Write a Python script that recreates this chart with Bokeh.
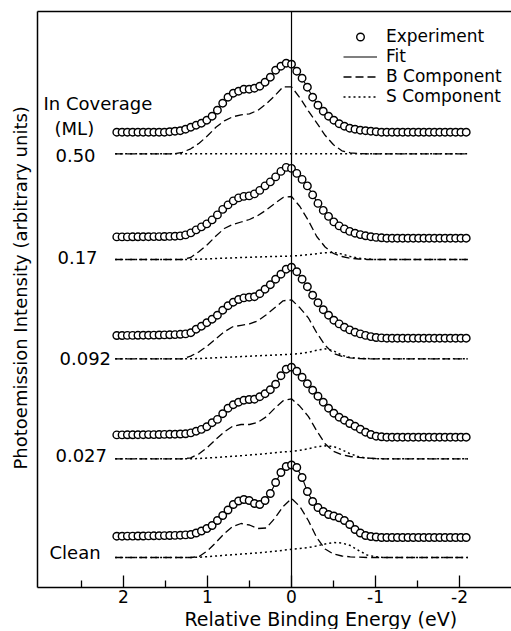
import numpy as np
from bokeh.plotting import figure
from bokeh.models import Range1d, LinearAxis, FixedTicker, Span, Label, Legend, LegendItem, ColumnDataSource, Title
from bokeh.embed import file_html
from bokeh.resources import INLINE

# ---------------- data ----------------
coverages = ["0.50", "0.17", "0.092", "0.027", "Clean"]
coverage_header = ["In Coverage", "(ML)"]

# energy grids (eV, relative binding energy)
exp_energy = np.round(np.linspace(2.08, -2.08, 67), 3)
comp_energy = np.round(np.linspace(2.1, -2.1, 43), 2)

# experiment intensities above each spectrum's own baseline (arb. units)
exp_050 = [0, 0, 0, 0, 0, 0, 0, 0, 0, 0,
           0.5, 1, 1.5, 3, 5, 7, 9, 12, 16, 22,
           29, 35, 39, 41, 43, 43, 44, 46, 50, 55,
           62, 66, 69, 68, 61, 54, 45, 35, 27, 21,
           16, 12, 8.5, 6, 4, 3, 2, 1.5, 1, 0.5,
           0, 0, 0, 0, 0, 0, 0, 0, 0, 0, 0, 0, 0, 0, 0, 0, 0]
exp_017 = [1.3, 1.3, 1.3, 1.4, 1.4, 1.5, 1.5, 1.6, 1.6, 1.7,
           1.8, 2.0, 2.3, 3.3, 5.3, 8.3, 11.3, 14.3, 18.3, 23.3,
           28.8, 33.3, 37.3, 40.3, 41.8, 42.3, 44.3, 47.8, 52.3, 56.3,
           61.3, 66.8, 70.8, 69.8, 64.8, 58.8, 52.3, 43.3, 34.8, 27.8,
           21.8, 16.3, 12.3, 9.3, 6.8, 5.0, 3.6, 2.4, 1.5, 0.8,
           0.4, 0, 0, 0, 0, 0, 0, 0, 0, 0, 0, 0, 0, 0, 0, 0, 0]
exp_0092 = [2.7, 2.7, 2.8, 2.8, 2.9, 3, 3, 3.1, 3.2, 3.3,
            3.4, 3.6, 3.9, 4.3, 5.5, 9, 12, 15.5, 19, 23,
            28, 32.5, 36, 38.7, 40.3, 41, 41.5, 44.5, 49, 53.5,
            59, 64, 69, 71, 66.5, 59, 51.5, 43, 35.5, 28.5,
            23, 18, 14.3, 11, 8.3, 6, 4.3, 2.8, 1.6, 0.7,
            0.3, 0, 0, 0, 0, 0, 0, 0, 0, 0, 0, 0, 0, 0, 0, 0, 0]
exp_0027 = [2.3, 2.3, 2.4, 2.4, 2.5, 2.5, 2.6, 2.6, 2.7, 2.8,
            2.9, 3, 3.2, 3.4, 4.3, 6, 7.8, 10.5, 14.5, 17.8,
            23.5, 29, 32.5, 35, 37, 37.7, 38, 40.5, 43.5, 47.5,
            53, 61.5, 68, 70, 66, 60, 53.5, 47, 41, 35,
            29, 24, 20, 17, 13.7, 11, 8, 5, 2.7, 1,
            0.4, 0, 0, 0, 0, 0, 0, 0, 0, 0, 0, 0, 0, 0, 0, 0, 0]
exp_clean = [1.3, 1.3, 1.4, 1.4, 1.5, 1.5, 1.6, 1.7, 1.8, 1.9,
             2, 2.1, 2.3, 2.6, 3, 4.5, 6.5, 9, 12, 17,
             22, 27.5, 33, 36.5, 38, 37, 34, 33, 37, 44,
             55, 65, 71, 72.5, 70, 60, 46, 36, 30, 26,
             23, 21.5, 19.7, 17, 13, 8, 4.5, 2, 1, 0.5,
             0, 0, 0, 0, 0, 0, 0, 0, 0, 0, 0, 0, 0, 0, 0, 0, 0]

# B (bulk) component
b_050 = [0, 0, 0, 0, 0, 0, 0, 0,
         1.5, 5, 10.5, 18, 26.5, 33, 37, 39, 40, 43.5, 50, 58, 67, 67,
         56, 43, 31, 18.5, 9, 3, 1, 0.3,
         0, 0, 0, 0, 0, 0, 0, 0, 0, 0, 0, 0, 0]
b_017 = [0, 0, 0, 0, 0, 0, 0, 0, 0,
         2, 8, 15, 23.5, 31, 35, 37.5, 40, 44, 49.5, 56, 62, 63,
         53, 39, 23, 12.5, 6, 3, 1.3, 0.5,
         0, 0, 0, 0, 0, 0, 0, 0, 0, 0, 0, 0, 0]
b_0092 = [0, 0, 0, 0, 0, 0, 0, 0, 0,
          2.7, 7, 13, 20, 27, 32, 33.5, 35, 38, 44, 51, 58, 59,
          51, 41, 26, 13.5, 5.3, 2.5, 1, 0.3,
          0, 0, 0, 0, 0, 0, 0, 0, 0, 0, 0, 0, 0]
b_0027 = [0, 0, 0, 0, 0, 0, 0, 0, 0,
          1, 5, 11.5, 19.5, 27, 32.5, 34.3, 34.3, 36.5, 42, 50.5, 58, 60,
          52.5, 42.5, 28, 15, 7.5, 4, 2.3, 1.5, 0.8, 0.3,
          0, 0, 0, 0, 0, 0, 0, 0, 0, 0, 0]
b_clean = [0, 0, 0, 0, 0, 0, 0, 0, 0, 0,
           1, 6.7, 15, 24, 31, 34, 32.5, 29, 29.5, 39, 51, 59,
           51, 37, 20, 8.5, 3.5, 1.5, 0.7, 0.3,
           0, 0, 0, 0, 0, 0, 0, 0, 0, 0, 0, 0, 0]

# S (surface) component
s_050 = [0] * 43
s_017 = [0, 0, 0, 0, 0, 0, 0, 0, 0, 0,
         0.3, 0.6, 1, 1.3, 1.6, 2, 2.2, 2.5, 2.8, 3, 3.2, 3.5,
         4, 4.8, 5.8, 6.8, 7, 5.5, 3, 1.3, 0.5,
         0, 0, 0, 0, 0, 0, 0, 0, 0, 0, 0, 0]
s_0092 = [0, 0, 0, 0, 0, 0, 0, 0, 0, 0,
          0.3, 0.6, 1, 1.4, 1.8, 2.2, 2.6, 3, 3.4, 3.8, 4.2, 4.6,
          5.3, 6.5, 8.5, 10, 8, 3.5, 1.3, 0.5, 0.2,
          0, 0, 0, 0, 0, 0, 0, 0, 0, 0, 0, 0]
s_0027 = [0, 0, 0, 0, 0, 0, 0, 0, 0, 0,
          0.3, 0.8, 1.3, 1.9, 2.5, 3.1, 3.8, 4.5, 5.2, 6, 6.8, 7.5,
          8.5, 10, 12, 13, 12.3, 9, 5, 2, 0.7,
          0, 0, 0, 0, 0, 0, 0, 0, 0, 0, 0, 0]
s_clean = [0, 0, 0, 0, 0, 0, 0, 0, 0, 0,
           0.3, 0.8, 1.5, 2.2, 2.8, 3.4, 4, 4.7, 5.4, 6.2, 7.2, 8.2,
           9, 10, 11.5, 13.5, 15, 14.5, 12, 7, 2.5, 0.7,
           0, 0, 0, 0, 0, 0, 0, 0, 0, 0, 0]

# vertical stacking offsets (arb. units)
exp_base = [467.3, 361.3, 261.3, 162.3, 62.0]
comp_base = [445.7, 340.0, 240.7, 140.7, 42.0]

tick_values = [2, 1, 0, -1, -2]
tick_labels = ["2", "1", "0", "-1", "-2"]
minor_tick_values = [2.5, 1.5, 0.5, -0.5, -1.5]

x_title = "Relative Binding Energy (eV)"
y_title = "Photoemission Intensity (arbitrary units)"

exp_series = [exp_050, exp_017, exp_0092, exp_0027, exp_clean]
b_series = [b_050, b_017, b_0092, b_0027, b_clean]
s_series = [s_050, s_017, s_0092, s_0027, s_clean]

# ---------------- layout ----------------
FONT = "DejaVu Sans"
FRAME_W = 474
FRAME_H = 576
Y_TOP = 588

p = figure(frame_width=FRAME_W, frame_height=FRAME_H,
           x_range=Range1d(3.024, -2.619), y_range=Range1d(Y_TOP - FRAME_H, Y_TOP),
           output_backend="svg", toolbar_location=None,
           min_border_left=36, min_border_right=0, min_border_top=11, min_border_bottom=0)
p.outline_line_color = None
p.grid.visible = False
p.background_fill_color = "white"
p.border_fill_color = "white"

# bottom axis
xa = p.xaxis[0]
xa.ticker = FixedTicker(ticks=tick_values, minor_ticks=minor_tick_values)
xa.major_label_overrides = {v: t for v, t in zip(tick_values, tick_labels)}
xa.major_tick_in = 12
xa.major_tick_out = 0
xa.minor_tick_in = 7
xa.minor_tick_out = 0
xa.axis_line_width = 1.5
xa.major_tick_line_width = 1.3
xa.minor_tick_line_width = 1.3
xa.major_label_standoff = 2
xa.major_label_text_font = FONT
xa.major_label_text_font_size = "17px"
xa.major_label_text_color = "black"

# left axis
ya = p.yaxis[0]
ya.ticker = FixedTicker(ticks=[])
ya.major_tick_in = 0
ya.major_tick_out = 0
ya.minor_tick_in = 0
ya.minor_tick_out = 0
ya.major_label_standoff = 0
ya.axis_line_width = 1.5

# axis titles (placed like the original, off-centre)
p.add_layout(Title(text=x_title, align="left", offset=147, standoff=0,
                   text_font=FONT, text_font_size="19px", text_font_style="normal",
                   text_color="black"), "below")
p.add_layout(Title(text=y_title, align="left", offset=118, standoff=14,
                   text_font=FONT, text_font_size="18px", text_font_style="normal",
                   text_color="black"), "left")

# top line
top = LinearAxis(ticker=FixedTicker(ticks=[]), axis_line_width=1.5,
                 major_tick_in=0, major_tick_out=0, minor_tick_in=0, minor_tick_out=0,
                 major_label_standoff=0)
p.add_layout(top, "above")

# zero line
p.add_layout(Span(location=0, dimension="height", line_color="black", line_width=1.2))

first = {}
for k in range(len(coverages)):
    ey = np.array(exp_series[k], dtype=float) + exp_base[k]
    by = np.array(b_series[k], dtype=float) + comp_base[k]
    sy = np.array(s_series[k], dtype=float) + comp_base[k]
    src_e = ColumnDataSource(dict(x=exp_energy, y=ey))
    r_fit = p.line("x", "y", source=src_e, line_color="black", line_width=1.1)
    r_b = p.line(comp_energy, by, line_color="black", line_width=1.3, line_dash="8 4")
    r_s = p.line(comp_energy, sy, line_color="black", line_width=1.5, line_dash="2 3")
    r_e = p.scatter("x", "y", source=src_e, marker="circle", size=7.5,
                    fill_color="white", line_color="black", line_width=1.4)
    if k == 0:
        first = dict(exp=r_e, fit=r_fit, b=r_b, s=r_s)

legend = Legend(items=[
    LegendItem(label="Experiment", renderers=[first["exp"]]),
    LegendItem(label="Fit", renderers=[first["fit"]]),
    LegendItem(label="B Component", renderers=[first["b"]]),
    LegendItem(label="S Component", renderers=[first["s"]]),
], location=(306, FRAME_H - 95), orientation="vertical",
    glyph_width=34, glyph_height=19, label_height=19, label_standoff=9,
    spacing=0, padding=0, margin=0, border_line_color=None,
    background_fill_alpha=0, label_text_font=FONT, label_text_font_size="17px",
    label_text_color="black")
p.add_layout(legend)

# coverage labels
header_x = [2.952, 2.821]
header_y = [496, 471]
for txt, x, y in zip(coverage_header, header_x, header_y):
    p.add_layout(Label(x=x, y=y, text=txt, text_font=FONT, text_font_size="18px",
                       text_baseline="middle", text_align="left", text_color="black"))

label_x = [2.81, 2.786, 2.762, 2.81, 2.881]
label_y = [444, 342, 241, 144, 47]
for txt, x, y in zip(coverages, label_x, label_y):
    p.add_layout(Label(x=x, y=y, text=txt, text_font=FONT, text_font_size="18px",
                       text_baseline="middle", text_align="left", text_color="black"))

open("out.html", "w").write(file_html(p, INLINE))
